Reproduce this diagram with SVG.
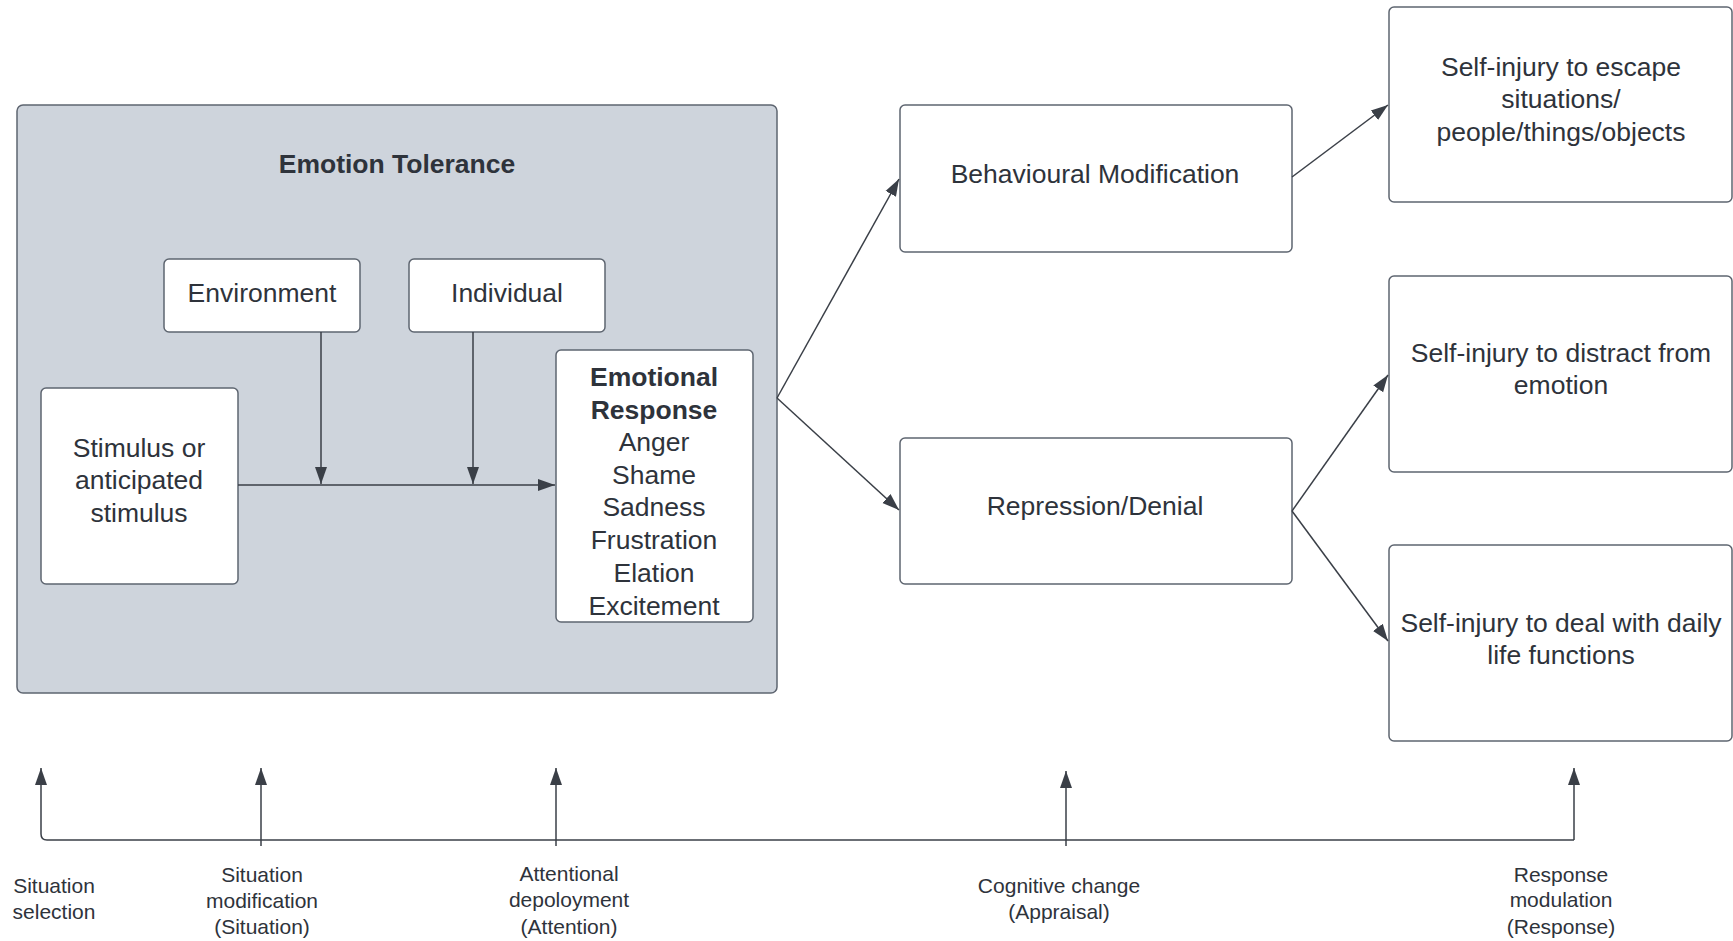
<svg xmlns="http://www.w3.org/2000/svg" width="1733" height="941" viewBox="0 0 1733 941">
<style>
text{font-family:"Liberation Sans",Arial,sans-serif;fill:#2e333b;text-anchor:middle}
.n{font-size:26.5px}
.b{font-weight:bold}
.s{font-size:21px}
.box{fill:#fff;stroke:#5e6570;stroke-width:1.5}
.c{fill:none;stroke:#3a3f47;stroke-width:1.5}
</style>
<defs>
<marker id="ah" markerUnits="userSpaceOnUse" markerWidth="18" markerHeight="14" viewBox="0 0 18 14" refX="17" refY="7" orient="auto">
<path d="M0,1 L17,7 L0,13 Z" fill="#3a3f47"/>
</marker>
</defs>
<g id="emotion-tolerance">
<rect x="17" y="105" width="760" height="588" rx="6" fill="#ced4dc" stroke="#5e6570" stroke-width="1.5"/>
<text class="n b" x="397" y="173">Emotion Tolerance</text>
</g>
<g id="environment">
<rect class="box" x="164" y="259" width="196" height="73" rx="5"/>
<text class="n" x="262" y="302">Environment</text>
</g>
<g id="individual">
<rect class="box" x="409" y="259" width="196" height="73" rx="5"/>
<text class="n" x="507" y="302">Individual</text>
</g>
<g id="stimulus">
<rect class="box" x="41" y="388" width="197" height="196" rx="5"/>
<text class="n" x="139" y="457">Stimulus or</text>
<text class="n" x="139" y="489">anticipated</text>
<text class="n" x="139" y="522">stimulus</text>
</g>
<g id="emotional-response">
<rect class="box" x="556" y="350" width="197" height="272" rx="5"/>
<text class="n b" x="654" y="386">Emotional</text>
<text class="n b" x="654" y="419">Response</text>
<text class="n" x="654" y="451">Anger</text>
<text class="n" x="654" y="484">Shame</text>
<text class="n" x="654" y="516">Sadness</text>
<text class="n" x="654" y="549">Frustration</text>
<text class="n" x="654" y="582">Elation</text>
<text class="n" x="654" y="615">Excitement</text>
</g>
<g id="behavioural-modification">
<rect class="box" x="900" y="105" width="392" height="147" rx="5"/>
<text class="n" x="1095" y="183">Behavioural Modification</text>
</g>
<g id="repression-denial">
<rect class="box" x="900" y="438" width="392" height="146" rx="5"/>
<text class="n" x="1095" y="515">Repression/Denial</text>
</g>
<g id="escape">
<rect class="box" x="1389" y="7" width="343" height="195" rx="5"/>
<text class="n" x="1561" y="76">Self-injury to escape</text>
<text class="n" x="1561" y="108">situations/</text>
<text class="n" x="1561" y="141">people/things/objects</text>
</g>
<g id="distract">
<rect class="box" x="1389" y="276" width="343" height="196" rx="5"/>
<text class="n" x="1561" y="362">Self-injury to distract from</text>
<text class="n" x="1561" y="394">emotion</text>
</g>
<g id="daily">
<rect class="box" x="1389" y="545" width="343" height="196" rx="5"/>
<text class="n" x="1561" y="632">Self-injury to deal with daily</text>
<text class="n" x="1561" y="664">life functions</text>
</g>
<g id="connectors">
<path class="c" d="M238,485 L555,485" marker-end="url(#ah)"/>
<path class="c" d="M321,332 L321,484" marker-end="url(#ah)"/>
<path class="c" d="M473,332 L473,484" marker-end="url(#ah)"/>
<path class="c" d="M777,398 L899,179" marker-end="url(#ah)"/>
<path class="c" d="M777,398 L899,510" marker-end="url(#ah)"/>
<path class="c" d="M1292,177 L1388,105" marker-end="url(#ah)"/>
<path class="c" d="M1292,511 L1388,375" marker-end="url(#ah)"/>
<path class="c" d="M1292,511 L1388,641" marker-end="url(#ah)"/>
<path class="c" d="M94,840 L1574,840"/>
<path class="c" d="M94,840 L47,840 Q41,840 41,834 L41,768" marker-end="url(#ah)"/>
<path class="c" d="M261,846 L261,768" marker-end="url(#ah)"/>
<path class="c" d="M556,846 L556,768" marker-end="url(#ah)"/>
<path class="c" d="M1066,846 L1066,771" marker-end="url(#ah)"/>
<path class="c" d="M1574,840 L1574,768" marker-end="url(#ah)"/>
</g>
<g id="labels">
<text class="s" x="54" y="893">Situation</text>
<text class="s" x="54" y="919">selection</text>
<text class="s" x="262" y="882">Situation</text>
<text class="s" x="262" y="908">modification</text>
<text class="s" x="262" y="934">(Situation)</text>
<text class="s" x="569" y="881">Attentional</text>
<text class="s" x="569" y="907">depoloyment</text>
<text class="s" x="569" y="934">(Attention)</text>
<text class="s" x="1059" y="893">Cognitive change</text>
<text class="s" x="1059" y="919">(Appraisal)</text>
<text class="s" x="1561" y="882">Response</text>
<text class="s" x="1561" y="907">modulation</text>
<text class="s" x="1561" y="934">(Response)</text>
</g>
</svg>
